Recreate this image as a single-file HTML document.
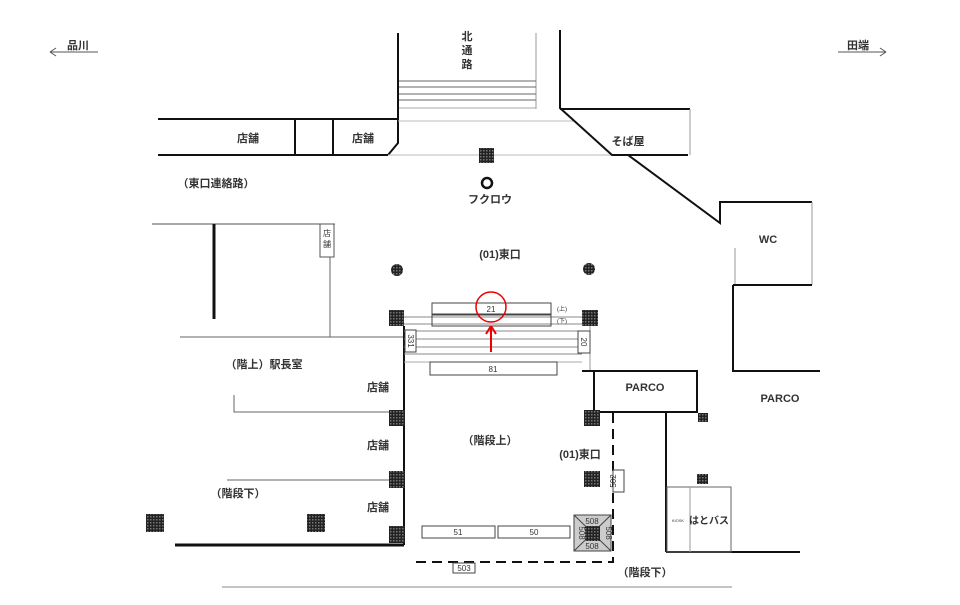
<!DOCTYPE html>
<html><head><meta charset="utf-8"><style>
body{margin:0;background:#fff}
svg{display:block}
text{font-family:"Liberation Sans","Noto Sans CJK JP",sans-serif;fill:#333}
.b text{font-weight:bold}
</style></head><body>
<svg width="960" height="605" viewBox="0 0 960 605" xmlns="http://www.w3.org/2000/svg">
<defs><pattern id="h" width="3" height="3" patternUnits="userSpaceOnUse"><rect width="3" height="3" fill="#222"/><rect width="1.5" height="1.5" fill="#777"/></pattern></defs>
<g fill="none" stroke="#111">
<path d="M50 52 H98 M50 52 l6 -4 M50 52 l6 4" stroke="#555"/>
<path d="M838 52 H886 M886 52 l-6 -4 M886 52 l-6 4" stroke="#555"/>
<path d="M398 33 V143 L388 155" stroke-width="2"/>
<path d="M536 33 V109" stroke="#999"/>
<path d="M399 81H536 M399 87H536 M399 94H536 M399 100H536" stroke="#666"/>
<path d="M399 108H536" stroke="#aaa"/>
<path d="M398 121H575 M388 155H612" stroke="#bbb"/>
<path d="M158 119H398 M158 155H388" stroke-width="2"/>
<path d="M295 119V155 M333 119V155" stroke-width="2"/>
<path d="M560 30V108 L612 155 H688 M560 109 H690" stroke-width="2"/>
<path d="M690 109V155" stroke="#999"/>
<path d="M628 155 L720 223 V202 H812" stroke-width="2"/>
<path d="M812 202V285 M735 248V285" stroke="#999"/>
<path d="M733 285H812 M733 285V371H820" stroke-width="2"/>
<path d="M152 224H335" stroke="#555"/>
<path d="M214 224V319" stroke-width="3"/>
<rect x="320" y="224" width="14" height="33" stroke="#555" fill="#fff"/>
<path d="M330 257V337 M180 337H403" stroke="#666"/>
<path d="M234 395V412H390 M227 480H390" stroke="#666"/>
<path d="M175 545H404" stroke-width="3"/>
<path d="M404 326V545" stroke-width="2"/>
<path d="M222 587H732" stroke="#888"/>
<path d="M404 317H582 M404 324H582 M404 331H582 M404 339H582 M404 347H582 M404 354H582" stroke="#888"/>
<path d="M404 362H582" stroke="#aaa"/>
<path d="M590 326V371" stroke="#999"/>
<rect x="432" y="303" width="119" height="11" stroke="#444"/>
<rect x="432" y="315" width="119" height="11" stroke="#444"/>
<rect x="405" y="330" width="11" height="22" stroke="#444" fill="#fff"/>
<rect x="578" y="331" width="12" height="22" stroke="#444" fill="#fff"/>
<rect x="430" y="362" width="127" height="13" stroke="#444" fill="#fff"/>
<path d="M582 371H697V412H600 M594 371V412" stroke-width="2"/>
<path d="M666 412V552 M666 552H800" stroke-width="2"/>
<rect x="667" y="487" width="64" height="65" stroke="#666"/>
<path d="M690 487V552" stroke="#999"/>
<path d="M613 413V562H415" stroke-width="2" stroke-dasharray="10 6"/>
<rect x="613" y="470" width="11" height="22" stroke="#444" fill="#fff"/>
<rect x="453" y="563" width="22" height="10" stroke="#444" fill="#fff"/>
<rect x="422" y="526" width="73" height="12" stroke="#444"/>
<rect x="498" y="526" width="72" height="12" stroke="#444"/>
<rect x="574" y="515" width="37" height="36" stroke="#444" fill="#ccc"/>
<path d="M574 515L611 551 M611 515L574 551" stroke="#444"/>
</g>
<g fill="url(#h)">
<rect x="479" y="148" width="15" height="15"/>
<rect x="389" y="310" width="15" height="16"/><rect x="582" y="310" width="16" height="16"/>
<rect x="389" y="410" width="16" height="16"/><rect x="389" y="471" width="16" height="17"/><rect x="389" y="526" width="16" height="17"/>
<rect x="584" y="410" width="16" height="16"/><rect x="584" y="471" width="16" height="16"/>
<rect x="698" y="413" width="10" height="9"/><rect x="697" y="474" width="11" height="10"/>
<rect x="146" y="514" width="18" height="18"/><rect x="307" y="514" width="18" height="18"/>
<rect x="585" y="526" width="15" height="15"/>
<circle cx="397" cy="270" r="6"/><circle cx="589" cy="269" r="6"/>
</g>
<circle cx="487" cy="183" r="5" fill="none" stroke="#111" stroke-width="2.5"/>
<circle cx="491" cy="307" r="15" fill="none" stroke="#e00" stroke-width="1.5"/>
<path d="M491 352V328 M491 326 l-5 8 M491 326 l5 8" stroke="#e00" stroke-width="2" fill="none"/>
<g font-size="11" text-anchor="middle" class="b">
<text x="78" y="49">品川</text><text x="858" y="49">田端</text>
<text x="467" y="40">北</text><text x="467" y="54">通</text><text x="467" y="68">路</text>
<text x="248" y="142">店舗</text><text x="363" y="142">店舗</text>
<text x="628" y="145">そば屋</text>
<text x="216" y="187">（東口連絡路）</text>
<text x="490" y="203">フクロウ</text>
<text x="500" y="258">(01)東口</text>
<text x="768" y="243">WC</text>
<text x="264" y="368">（階上）駅長室</text>
<text x="378" y="391">店舗</text><text x="378" y="449">店舗</text><text x="378" y="511">店舗</text>
<text x="238" y="497">（階段下）</text>
<text x="490" y="444">（階段上）</text>
<text x="580" y="458">(01)東口</text>
<text x="645" y="391">PARCO</text><text x="780" y="402">PARCO</text>
<text x="645" y="576">（階段下）</text>
<text x="709" y="524" font-size="10">はとバス</text>
</g>
<g font-size="8" text-anchor="middle" fill="#444">
<text x="327" y="236">店</text><text x="327" y="247">舗</text>
<text x="491" y="312">21</text>
<text x="562" y="311" font-size="6">(上)</text><text x="562" y="323" font-size="6">(下)</text>
<text x="493" y="372">81</text>
<text x="458" y="535">51</text><text x="534" y="535">50</text>
<text x="464" y="571">503</text>
<text x="592" y="524">508</text><text x="592" y="549">508</text>
<text x="678" y="522" font-size="4">KIOSK</text>
<text x="0" y="0" transform="translate(408 341) rotate(90)">331</text>
<text x="0" y="0" transform="translate(581 342) rotate(90)">20</text>
<text x="0" y="0" transform="translate(616 481) rotate(-90)">502</text>
<text x="0" y="0" transform="translate(606 533) rotate(90)">508</text>
<text x="0" y="0" transform="translate(579 533) rotate(90)">508</text>
</g>
</svg>
</body></html>
